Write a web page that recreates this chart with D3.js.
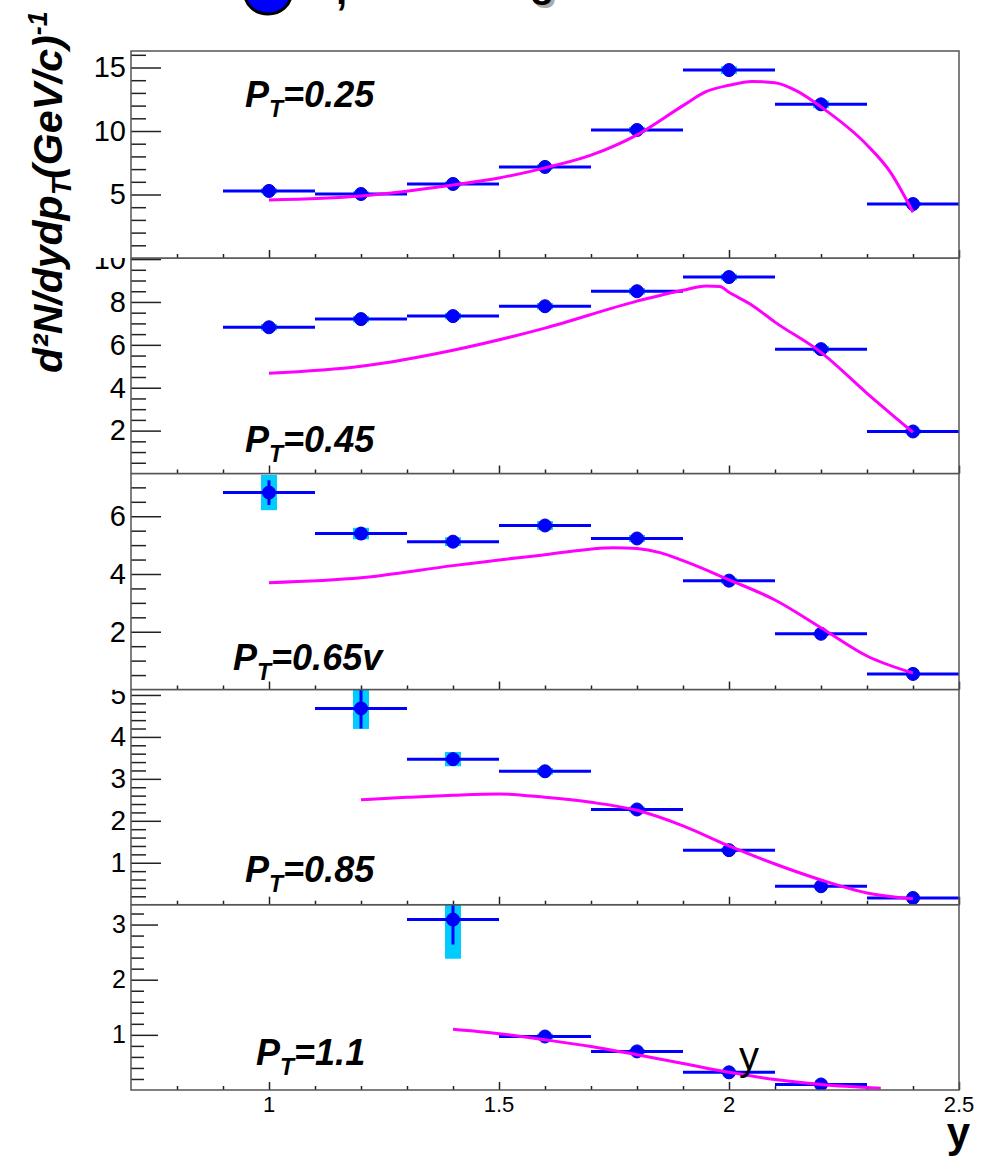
<!DOCTYPE html>
<html><head><meta charset="utf-8">
<script src="https://cdn.jsdelivr.net/npm/d3@7/dist/d3.min.js"></script>
<style>body{margin:0;background:#fff}svg{display:block}</style>
</head><body>
<svg id="c" width="992" height="1159"></svg>
<script>
// ---------------- data ----------------
const ptLabels = ["0.25", "0.45", "0.65v", "0.85", "1.1"];
const binHalfWidth = 0.1;
const xTickLabels = ["1", "1.5", "2", "2.5"];

// panel 1 : pT = 0.25
const rap1 = [1.0, 1.2, 1.4, 1.6, 1.8, 2.0, 2.2, 2.4];
const val1 = [5.28, 5.04, 5.83, 7.17, 10.08, 14.8, 12.1, 4.25];
const stat1 = [0.15, 0.15, 0.15, 0.15, 0.2, 0.2, 0.2, 0.1];
const sys1 = [0.2, 0.2, 0.2, 0.2, 0.25, 0.3, 0.3, 0.15];
const fitX1 = [1.0, 1.2, 1.4, 1.5, 1.6, 1.7, 1.8, 1.9, 1.95, 2.0, 2.05, 2.1, 2.15, 2.2, 2.3, 2.35, 2.4];
const fitY1 = [4.57, 4.88, 5.75, 6.3, 7.1, 8.1, 9.7, 12.0, 13.1, 13.6, 13.9, 13.8, 13.1, 11.9, 8.9, 6.8, 3.6];

// panel 2 : pT = 0.45
const rap2 = [1.0, 1.2, 1.4, 1.6, 1.8, 2.0, 2.2, 2.4];
const val2 = [6.82, 7.2, 7.34, 7.8, 8.5, 9.16, 5.8, 1.96];
const stat2 = [0.1, 0.1, 0.1, 0.1, 0.1, 0.1, 0.1, 0.05];
const sys2 = [0.15, 0.15, 0.15, 0.15, 0.15, 0.15, 0.15, 0.1];
const fitX2 = [1.0, 1.2, 1.4, 1.6, 1.8, 1.9, 1.95, 1.98, 2.0, 2.05, 2.1, 2.2, 2.3, 2.4];
const fitY2 = [4.67, 5.0, 5.75, 6.78, 8.04, 8.55, 8.74, 8.72, 8.45, 7.85, 7.06, 5.65, 3.74, 1.92];

// panel 3 : pT = 0.65
const rap3 = [1.0, 1.2, 1.4, 1.6, 1.8, 2.0, 2.2, 2.4];
const val3 = [6.82, 5.4, 5.12, 5.68, 5.23, 3.77, 1.93, 0.54];
const stat3 = [0.43, 0.1, 0.1, 0.1, 0.1, 0.08, 0.05, 0.03];
const sys3 = [0.61, 0.2, 0.15, 0.15, 0.12, 0.1, 0.06, 0.03];
const fitX3 = [1.0, 1.2, 1.4, 1.6, 1.75, 1.8, 1.85, 1.9, 2.0, 2.1, 2.2, 2.3, 2.4];
const fitY3 = [3.7, 3.87, 4.29, 4.67, 4.91, 4.88, 4.74, 4.46, 3.8, 3.1, 2.14, 1.16, 0.57];

// panel 4 : pT = 0.85
const rap4 = [1.2, 1.4, 1.6, 1.8, 2.0, 2.2, 2.4];
const val4 = [4.68, 3.47, 3.18, 2.27, 1.3, 0.44, 0.16];
const stat4 = [0.48, 0.1, 0.05, 0.05, 0.04, 0.03, 0.02];
const sys4 = [0.49, 0.17, 0.08, 0.07, 0.05, 0.03, 0.02];
const fitX4 = [1.2, 1.3, 1.4, 1.5, 1.6, 1.7, 1.8, 1.9, 2.0, 2.1, 2.2, 2.3, 2.4];
const fitY4 = [2.5, 2.56, 2.61, 2.64, 2.56, 2.44, 2.25, 1.88, 1.4, 0.97, 0.59, 0.28, 0.14];

// panel 5 : pT = 1.1
const rap5 = [1.4, 1.6, 1.8, 2.0, 2.2];
const val5 = [3.09, 0.97, 0.70, 0.32, 0.1];
const stat5 = [0.45, 0.03, 0.03, 0.02, 0.02];
const sys5 = [0.71, 0.05, 0.04, 0.03, 0.02];
const fitX5 = [1.4, 1.5, 1.6, 1.7, 1.8, 1.9, 2.0, 2.1, 2.2, 2.33];
const fitY5 = [1.10, 1.02, 0.91, 0.79, 0.64, 0.48, 0.32, 0.19, 0.10, 0.03];

// y tick labels per panel
const yMajor1 = [5, 10, 15];
const yMajor2 = [2, 4, 6, 8, 10];
const yMajor3 = [2, 4, 6];
const yMajor4 = [1, 2, 3, 4, 5];
const yMajor5 = [1, 2, 3];

// ---------------- layout ----------------
const svg = d3.select("#c");
const FONT = "'Liberation Sans', Arial, Helvetica, sans-serif";
const x = d3.scaleLinear().domain([0.7, 2.5]).range([131, 959]);
const L = x.range()[0], R = x.range()[1];

const panels = [
  {top: 51, bottom: 258, ymax: 16.3, minor: 1, major: yMajor1, rap: rap1, val: val1, stat: stat1, sys: sys1, fx: fitX1, fy: fitY1, lab: {x: 245, y: 107}, fs: 29, ml: 30, mn: 15, clipTop: 0},
  {top: 258, bottom: 473.5, ymax: 10.05, minor: 0.5, major: yMajor2, rap: rap2, val: val2, stat: stat2, sys: sys2, fx: fitX2, fy: fitY2, lab: {x: 245, y: 452}, fs: 29, ml: 30, mn: 15},
  {top: 473.5, bottom: 689.5, ymax: 7.48, minor: 0.5, major: yMajor3, rap: rap3, val: val3, stat: stat3, sys: sys3, fx: fitX3, fy: fitY3, lab: {x: 233, y: 670}, fs: 29, ml: 30, mn: 15},
  {top: 689.5, bottom: 904.7, ymax: 5.13, minor: 0.2, major: yMajor4, rap: rap4, val: val4, stat: stat4, sys: sys4, fx: fitX4, fy: fitY4, lab: {x: 245, y: 882}, fs: 28, ml: 30, mn: 15},
  {top: 904.7, bottom: 1090, ymax: 3.36, minor: 0.2, major: yMajor5, rap: rap5, val: val5, stat: stat5, sys: sys5, fx: fitX5, fy: fitY5, lab: {x: 256, y: 1065}, fs: 25, ml: 27, mn: 13}
];

const defs = svg.append("defs");

// draw panels bottom -> top so upper pads cover overflowing labels
panels.slice().reverse().forEach((p, ri) => {
  const i = panels.length - 1 - ri;
  const y = d3.scaleLinear().domain([0, p.ymax]).range([p.bottom, p.top]);
  const padTop = p.clipTop !== undefined ? p.clipTop : p.top;
  const g = svg.append("g");
  g.append("rect").attr("x", 0).attr("y", padTop)
    .attr("width", 992).attr("height", p.bottom - padTop).attr("fill", "#fff");

  defs.append("clipPath").attr("id", "plot" + i).append("rect")
    .attr("x", L).attr("y", p.top).attr("width", R - L).attr("height", p.bottom - p.top);
  defs.append("clipPath").attr("id", "lab" + i).append("rect")
    .attr("x", 0).attr("y", padTop).attr("width", L).attr("height", p.bottom - padTop);

  // y ticks (inward)
  const minorVals = d3.range(p.minor, p.ymax + 1e-9, p.minor).filter(v => !p.major.some(m => Math.abs(m - v) < 1e-6));
  const yMinorAxis = d3.axisRight(y).tickValues(minorVals).tickSize(p.mn).tickFormat("");
  const yMajorAxis = d3.axisRight(y).tickValues(p.major).tickSize(p.ml).tickFormat("");
  const gy1 = g.append("g").attr("transform", `translate(${L},0)`).call(yMinorAxis);
  const gy2 = g.append("g").attr("transform", `translate(${L},0)`).call(yMajorAxis);
  [gy1, gy2].forEach(a => { a.select(".domain").remove(); a.selectAll("line").attr("stroke", "#222").attr("stroke-width", 1.5); });

  // y labels (clipped to the pad)
  const yLab = d3.axisLeft(y).tickValues(p.major).tickSize(0).tickPadding(5).tickFormat(d3.format("d"));
  const gl = g.append("g").attr("clip-path", `url(#lab${i})`)
    .append("g").attr("transform", `translate(${L},0)`).call(yLab);
  gl.select(".domain").remove();
  gl.selectAll("text").attr("font-family", FONT).attr("font-size", p.fs).attr("fill", "#000");

  // x ticks (inward from bottom)
  const xMinor = d3.range(8, 25.5, 1).map(v => v / 10).filter(v => Math.abs(v * 2 - Math.round(v * 2)) > 1e-6);
  const xMajor = [1, 1.5, 2, 2.5];
  const gx1 = g.append("g").attr("transform", `translate(0,${p.bottom})`).call(d3.axisTop(x).tickValues(xMinor).tickSize(4).tickFormat(""));
  const gx2 = g.append("g").attr("transform", `translate(0,${p.bottom})`).call(d3.axisTop(x).tickValues(xMajor).tickSize(8).tickFormat(""));
  [gx1, gx2].forEach(a => { a.select(".domain").remove(); a.selectAll("line").attr("stroke", "#222").attr("stroke-width", 1.5); });

  // data
  const pg = g.append("g").attr("clip-path", `url(#plot${i})`);
  p.rap.forEach((c, k) => {
    const v = p.val[k];
    pg.append("rect").attr("x", x(c) - 8).attr("width", 16)
      .attr("y", y(v + p.sys[k])).attr("height", y(v - p.sys[k]) - y(v + p.sys[k]))
      .attr("fill", "#00ccff");
  });
  p.rap.forEach((c, k) => {
    const v = p.val[k];
    pg.append("line").attr("x1", x(c - binHalfWidth)).attr("x2", x(c + binHalfWidth))
      .attr("y1", y(v)).attr("y2", y(v)).attr("stroke", "#0000ff").attr("stroke-width", 3);
    pg.append("line").attr("x1", x(c)).attr("x2", x(c))
      .attr("y1", y(v - p.stat[k])).attr("y2", y(v + p.stat[k])).attr("stroke", "#0000ff").attr("stroke-width", 3);
  });
  p.rap.forEach((c, k) => {
    pg.append("circle").attr("cx", x(c)).attr("cy", y(p.val[k])).attr("r", 6.5)
      .attr("fill", "#0000ff").attr("stroke", "#0000dd").attr("stroke-width", 1);
  });
  const fit = p.fx.map((fx, k) => [fx, p.fy[k]]);
  pg.append("path").datum(fit)
    .attr("d", d3.line().x(d => x(d[0])).y(d => y(d[1])).curve(d3.curveMonotoneX))
    .attr("fill", "none").attr("stroke", "#ff00ff").attr("stroke-width", 3);

  // frame
  g.append("rect").attr("x", L).attr("y", p.top).attr("width", R - L).attr("height", p.bottom - p.top)
    .attr("fill", "none").attr("stroke", "#555").attr("stroke-width", 1.5);

  // pT label
  const t = g.append("text").attr("x", p.lab.x).attr("y", p.lab.y)
    .attr("font-family", FONT).attr("font-weight", "bold").attr("font-style", "italic").attr("font-size", 36).attr("fill", "#000");
  t.append("tspan").text("P");
  t.append("tspan").attr("font-size", 23).attr("dy", 10).text("T");
  t.append("tspan").attr("dy", -10).text("=" + ptLabels[i]);
});

// x tick labels (bottom panel)
const bottomY = panels[4].bottom;
svg.append("g").selectAll("text").data(xTickLabels).join("text")
  .attr("x", d => x(+d)).attr("y", bottomY + 22).attr("text-anchor", "middle")
  .attr("font-family", FONT).attr("font-size", 22).attr("fill", "#000").text(d => d);

// x axis title
svg.append("text").attr("x", 970).attr("y", 1147).attr("text-anchor", "end")
  .attr("font-family", FONT).attr("font-weight", "bold").attr("font-size", 42).attr("fill", "#000").text("y");

// stray label in last panel
svg.append("text").attr("x", 739).attr("y", 1070)
  .attr("font-family", FONT).attr("font-size", 40).attr("fill", "#000").text("y");

// y axis title
const yt = svg.append("text").attr("transform", "translate(62,373) rotate(-90)")
  .attr("font-family", FONT).attr("font-weight", "bold").attr("font-style", "italic").attr("font-size", 41).attr("fill", "#000");
yt.append("tspan").text("d²N/dydp");
yt.append("tspan").attr("font-size", 27).attr("dy", 9).text("T");
yt.append("tspan").attr("dy", -9).text("(GeV/c)");
yt.append("tspan").attr("font-size", 27).attr("dy", -15).text("-1");

// clipped title fragments at the very top
svg.append("ellipse").attr("cx", 268).attr("cy", -6).attr("rx", 23).attr("ry", 20)
  .attr("fill", "#0000ff").attr("stroke", "#000").attr("stroke-width", 3);
svg.append("text").attr("x", 336).attr("y", 4).attr("font-family", FONT).attr("font-weight", "bold")
  .attr("font-size", 40).attr("fill", "#000").text(",");
svg.append("text").attr("x", 533).attr("y", 0).attr("font-family", FONT).attr("font-weight", "bold")
  .attr("font-size", 40).attr("fill", "#aaa").text("g");
svg.append("text").attr("x", 530).attr("y", -3).attr("font-family", FONT).attr("font-weight", "bold")
  .attr("font-size", 40).attr("fill", "#000").text("g");
</script>
</body></html>
